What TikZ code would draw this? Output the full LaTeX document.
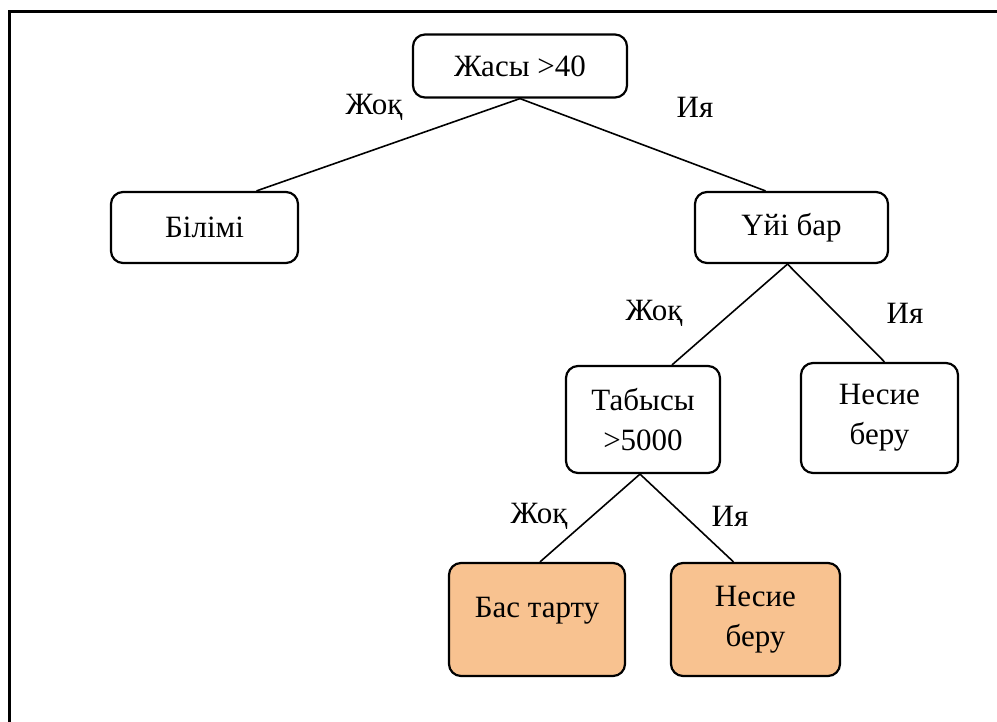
\documentclass[tikz,border=0pt]{standalone}
\usepackage{fontspec}
\setmainfont{Liberation Serif}
\usepackage{tikz}

\definecolor{leafpeach}{HTML}{F8C290}

\begin{document}
\begin{tikzpicture}[
                test/.style={
                    draw=black,
                    line width=2.2pt,
                    rounded corners=12pt,
                    align=center,
                    inner sep=0pt,
                    font=\fontsize{31}{40}\selectfont
                },
                leaf/.style={
                    test,
                    fill=leafpeach
                },
                branch/.style={
                    line width=1.6pt
                },
                answer/.style={
                    inner sep=0pt,
                    font=\fontsize{31}{36}\selectfont
                },
                x=1pt,
                y=-1pt
            ]

        \useasboundingbox (0,0) rectangle (997,722);

        % frame
        \draw[line width=3pt] (997,12) -- (9,12) -- (9,722);

        % nodes
        \node[test, minimum width=214pt, minimum height=63pt] (age) at (520,66) {Жасы >40};
        \node[test, minimum width=187pt, minimum height=71pt] (edu) at (204.5,227.5) {Білімі};
        \node[test, minimum width=193pt, minimum height=71pt] (home) at (791.5,227.5) {Үйі бар};
        \node[test, minimum width=154pt, minimum height=107pt] (income) at (643,419.5) {Табысы\\>5000};
        \node[test, minimum width=157pt, minimum height=110pt] (loanA) at (879.5,418) {Несие\\беру};
        \node[leaf, minimum width=176pt, minimum height=113pt,
              text height=21pt, text depth=26pt] (refuse) at (537,619.5) {Бас тарту};
        \node[leaf, minimum width=169pt, minimum height=113pt] (loanB) at (755.5,619.5) {Несие\\беру};

        % branches
        \draw[branch] (age.south) -- ([xshift=52pt]edu.north);
        \draw[branch] (age.south) -- ([xshift=-26pt]home.north);
        \draw[branch] ([xshift=-4pt]home.south) -- ([xshift=29pt]income.north);
        \draw[branch] ([xshift=-4pt]home.south) -- ([xshift=5pt]loanA.north);
        \draw[branch] ([xshift=-3pt]income.south) -- ([xshift=3pt]refuse.north);
        \draw[branch] ([xshift=-3pt]income.south) -- ([xshift=-22pt]loanB.north);

        % answers
        \node[answer] (noA) at (374,107) {Жоқ};
        \node[answer] (yesA) at (695,107) {Ия};
        \node[answer] (noB) at (654,313) {Жоқ};
        \node[answer] (yesB) at (905,313) {Ия};
        \node[answer] (noC) at (539,516) {Жоқ};
        \node[answer] (yesC) at (730,516) {Ия};

            \end{tikzpicture}
\end{document}
